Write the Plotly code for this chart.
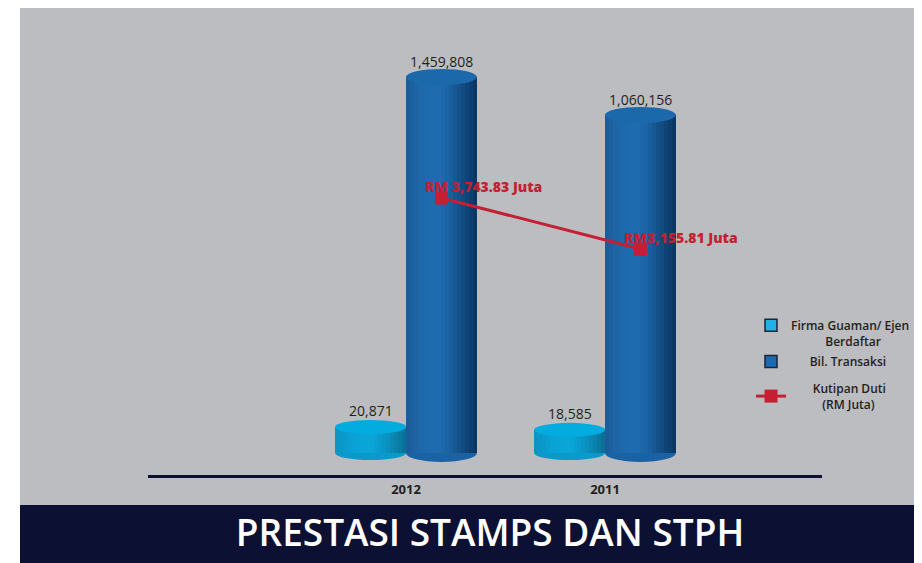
import plotly.graph_objects as go

# ---------------- data ----------------
years = ["2012", "2011"]
firma = [20871, 18585]                # Firma Guaman/ Ejen Berdaftar
transaksi = [1459808, 1060156]        # Bil. Transaksi
kutipan = [3743.83, 3155.81]          # Kutipan Duti (RM Juta)
kutipan_labels = ["RM 3,743.83 Juta", "RM3,155.81 Juta"]

# ---------------- layout geometry ----------------
PAGE_MARGIN = 8          # default body margin of the html page
W, H = 922 - PAGE_MARGIN, 563 - PAGE_MARGIN
L, R, T, B = 140, 100, 22, 88
PW, PH = W - L - R, H - T - B


def px_x(p):
    # p: horizontal pixel position in the screenshot
    return (p - PAGE_MARGIN - L) / PW


def px_y(p):
    return (H - B - (p - PAGE_MARGIN)) / PH


idx = list(range(len(years)))
X_RANGE = [-1.2965, 2.0905]
CYL_W = 0.357
OFF_L, OFF_D = -0.178, 0.178

# illustrative (non-proportional) value scales of the original graphic
Y_LIGHT = [-17660, 339540]
Y_DARK = [-2726000, 1954000]
DARK_BASE = -2494700
Y_LINE = [550, 5681]

NAVY = "#0c1033"
RED = "#c41f33"
GRAY = "#bcbdc0"
TXT = "#231f20"


def hex2rgb(h):
    h = h.lstrip("#")
    return [int(h[i:i + 2], 16) for i in (0, 2, 4)]


def interp(stops, f):
    for (f0, c0), (f1, c1) in zip(stops[:-1], stops[1:]):
        if f0 <= f <= f1:
            t = (f - f0) / (f1 - f0) if f1 > f0 else 0
            a, b = hex2rgb(c0), hex2rgb(c1)
            return "rgb(%d,%d,%d)" % tuple(round(a[k] + (b[k] - a[k]) * t) for k in range(3))
    return stops[-1][1]


DARK_STOPS = [(0, "#1a5a98"), (0.2, "#1e68ab"), (0.45, "#1f6cb1"), (0.6, "#1b63a4"),
              (0.75, "#145189"), (0.9, "#0e4070"), (1.0, "#0a3460")]
LIGHT_STOPS = [(0, "#0b92c2"), (0.25, "#0aa2d4"), (0.5, "#0aa6d8"), (0.7, "#0996c5"),
               (0.85, "#0a84ae"), (1.0, "#0a6e93")]

N = 18
fig = go.Figure()


def add_cylinder(values, off, stops, yaxis, base):
    sw = CYL_W / N
    for i in range(N):
        fig.add_trace(go.Bar(
            x=idx, y=values, base=base, xaxis="x", yaxis=yaxis,
            width=sw + (0.004 if i < N - 1 else 0),
            offset=off - CYL_W / 2 + i * sw,
            marker=dict(color=interp(stops, (i + 0.5) / N), line=dict(width=0)),
            showlegend=False, hoverinfo="skip"))


add_cylinder(firma, OFF_L, LIGHT_STOPS, "y", 0)
add_cylinder([v - DARK_BASE for v in transaksi], OFF_D, DARK_STOPS, "y2", DARK_BASE)

NB = "\u00a0"
# legend entries for the cylinders
fig.add_trace(go.Bar(x=[None], y=[None], name="Firma Guaman/ Ejen<br>" + NB * 11 + "Berdaftar",
                     marker=dict(color="#22b1e6", line=dict(color="#1a2535", width=1.5)),
                     legendrank=1, legendgroup="a"))
fig.add_trace(go.Bar(x=[None], y=[None], name=NB * 6 + "Bil. Transaksi",
                     marker=dict(color="#1b6bb4", line=dict(color="#1a2535", width=1.5)),
                     legendrank=2, legendgroup="b"))

# Kutipan Duti line
fig.add_trace(go.Scatter(
    x=idx, y=kutipan, xaxis="x2", yaxis="y3", mode="lines+markers",
    line=dict(color=RED, width=3), marker=dict(symbol="square", size=13, color=RED),
    name=NB * 7 + "Kutipan Duti<br>" + NB * 10 + "(RM Juta)", legend="legend2"))

shapes = [
    dict(type="rect", xref="paper", yref="paper", x0=px_x(20), x1=px_x(922),
         y0=px_y(505), y1=px_y(7), fillcolor=GRAY, line=dict(width=0), layer="below"),
    dict(type="rect", xref="paper", yref="paper", x0=px_x(20), x1=px_x(922),
         y0=px_y(563), y1=px_y(505), fillcolor=NAVY, line=dict(width=0), layer="below"),
]

for i in idx:
    # light cylinders
    xc = i + OFF_L
    shapes.append(dict(type="circle", xref="x", yref="y", ysizemode="pixel", yanchor=0,
                       y0=-7, y1=7, x0=xc - CYL_W / 2, x1=xc + CYL_W / 2,
                       fillcolor="#0a99ca", line=dict(width=0), layer="below"))
    shapes.append(dict(type="circle", xref="x", yref="y", ysizemode="pixel", yanchor=firma[i],
                       y0=-7, y1=7, x0=xc - CYL_W / 2, x1=xc + CYL_W / 2,
                       fillcolor="#02acdf", line=dict(width=0), layer="above"))
    # dark cylinders
    xc = i + OFF_D
    shapes.append(dict(type="circle", xref="x", yref="y2", ysizemode="pixel", yanchor=DARK_BASE,
                       y0=-9, y1=9, x0=xc - CYL_W / 2, x1=xc + CYL_W / 2,
                       fillcolor="#1a62a3", line=dict(width=0), layer="below"))
    shapes.append(dict(type="circle", xref="x", yref="y2", ysizemode="pixel", yanchor=transaksi[i],
                       y0=-8, y1=8, x0=xc - CYL_W / 2, x1=xc + CYL_W / 2,
                       fillcolor="#1b69aa", line=dict(width=0), layer="above"))

annotations = []
for i in idx:
    annotations.append(dict(x=i + OFF_L, y=firma[i], xref="x", yref="y", text=f"{firma[i]:,}",
                            showarrow=False, yanchor="bottom", yshift=5,
                            font=dict(size=14, color=TXT, family="Open Sans", weight=500)))
    annotations.append(dict(x=i + OFF_D, y=transaksi[i], xref="x", yref="y2",
                            text=f"{transaksi[i]:,}", showarrow=False, yanchor="bottom", yshift=4,
                            font=dict(size=14, color=TXT, family="Open Sans", weight=500)))
    annotations.append(dict(x=i, y=kutipan[i], xref="x2", yref="y3", text=kutipan_labels[i],
                            showarrow=False, xanchor="left", yanchor="bottom", xshift=-18, yshift=0,
                            font=dict(size=14, color=RED, family="Open Sans", weight=800)))

legend_font = dict(size=12, color=TXT, family="Open Sans", weight=600)
fig.update_layout(
    width=W, height=H, margin=dict(l=L, r=R, t=T, b=B, autoexpand=False),
    paper_bgcolor="white", plot_bgcolor="rgba(0,0,0,0)",
    barmode="overlay", bargap=0,
    font=dict(family="Open Sans", color=TXT),
    title=dict(text="PRESTASI STAMPS DAN STPH", x=(490 - PAGE_MARGIN) / W, xanchor="center",
               y=1 - (533 - PAGE_MARGIN) / H, yanchor="middle", xref="container", yref="container",
               font=dict(size=37, color="white", family="Open Sans", weight=600)),
    xaxis=dict(range=X_RANGE, tickvals=idx, ticktext=years, showgrid=False, zeroline=False,
               showline=True, linecolor=NAVY, linewidth=3, ticks="",
               tickfont=dict(size=13, color=TXT, family="Open Sans", weight="bold")),
    xaxis2=dict(range=[X_RANGE[0] - OFF_D, X_RANGE[1] - OFF_D], overlaying="x", visible=False),
    yaxis=dict(range=Y_LIGHT, visible=False),
    yaxis2=dict(range=Y_DARK, overlaying="y", visible=False),
    yaxis3=dict(range=Y_LINE, overlaying="y", visible=False),
    legend=dict(x=px_x(751), y=px_y(311), xanchor="left", yanchor="top",
                bgcolor="rgba(0,0,0,0)", traceorder="grouped", tracegroupgap=2,
                valign="top", font=legend_font),
    legend2=dict(x=px_x(751), y=px_y(374), xanchor="left", yanchor="top",
                 bgcolor="rgba(0,0,0,0)", valign="middle", itemwidth=30, font=legend_font),
    shapes=shapes, annotations=annotations,
)

fig.write_html("out.html")
